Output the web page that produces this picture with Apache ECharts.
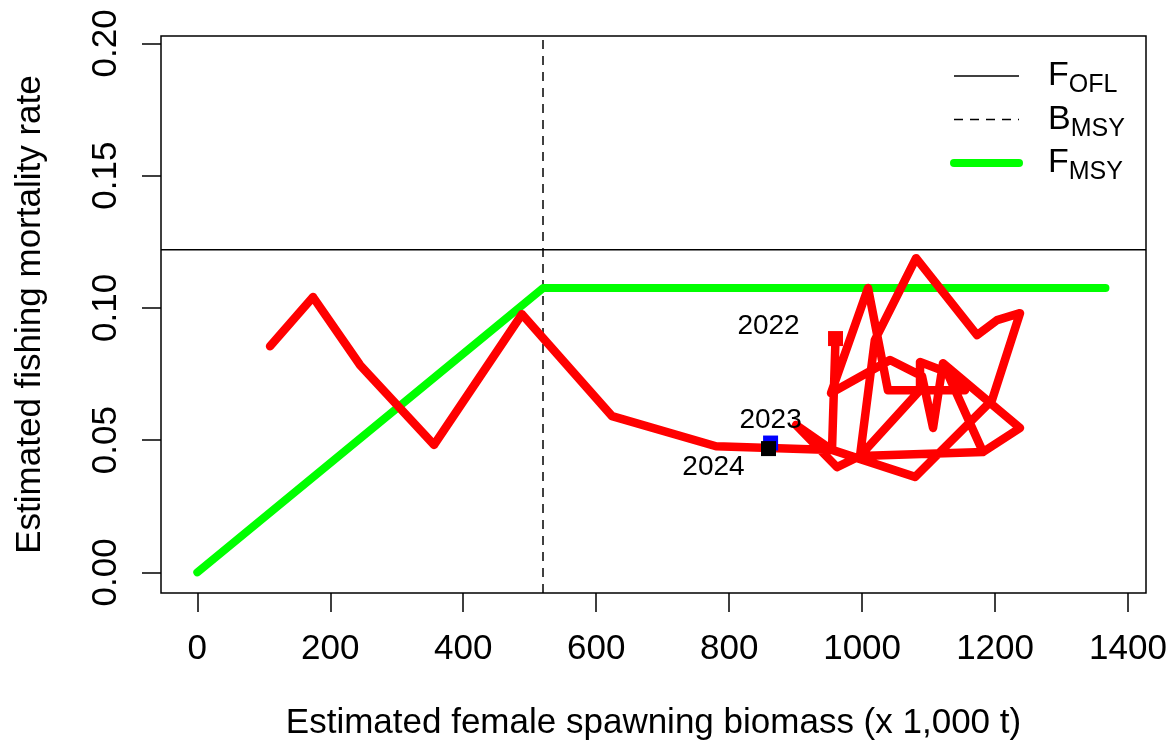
<!DOCTYPE html>
<html><head><meta charset="utf-8">
<script src="https://cdn.jsdelivr.net/npm/echarts@6/dist/echarts.min.js"></script>
<style>html,body{margin:0;padding:0;background:#fff}#c{width:1176px;height:751px}</style>
</head><body><div id="c"></div>
<script>
// ---- data ----
const xTicks = [0, 200, 400, 600, 800, 1000, 1200, 1400];
const yTicks = [0, 0.05, 0.10, 0.15, 0.20];
const trajBiomass = [109.4, 174.1, 244.8, 356.1, 488.4, 623.8, 780.2, 954.7, 900.6, 962.2, 996.8,
  1181.8, 1237.5, 1121.7, 1106.7, 1090.1, 1042.0, 953.2, 1008.9, 1038.8, 1154.8, 1127.7, 1181.8,
  1127.7, 1087.1, 1087.1, 996.8, 1019.1, 1081.1, 1172.9, 1203.0, 1237.5, 1195.3, 1079.6, 954.7, 960.0];
const trajF = [0.0855, 0.1041, 0.0784, 0.0482, 0.0976, 0.0591, 0.0477, 0.0463, 0.0557, 0.0398, 0.0440,
  0.0455, 0.0546, 0.0791, 0.0546, 0.0742, 0.0803, 0.0678, 0.1075, 0.0689, 0.0689, 0.0757, 0.0455,
  0.0757, 0.0795, 0.0689, 0.0440, 0.0878, 0.1188, 0.0897, 0.0954, 0.0980, 0.0651, 0.0361, 0.0463, 0.0884];
const fOFL = 0.122;
const bMSY = 520;
const fMSY = 0.1075;
const fmsyEnd = 1366;
const yearLabels = ['2022', '2023', '2024'];
const yearBiomass = [960.0, 862.3, 859.2];
const yearF = [0.0884, 0.0489, 0.0468];
const yearColors = ['#ff0000', '#0000ff', '#000000'];
const legendNames = ['F_OFL', 'B_MSY', 'F_MSY'];
const legendMain = ['F', 'B', 'F'];
const legendSub = ['OFL', 'MSY', 'MSY'];

const X_MIN = -54.6, X_MAX = 1427, Y_MIN = -0.0078, Y_MAX = 0.2028;
const FONT = "'Liberation Sans', Arial, sans-serif";

const chart = echarts.init(document.getElementById('c'), null, {renderer: 'canvas'});
const labelOffsets = [[-67, -12], [0, -23], [-55, 19]];

const yearSeries = yearLabels.map((y, i) => ({
  name: 'year' + y, type: 'scatter', symbol: 'rect', symbolSize: 15, silent: true, z: 3 + i,
  itemStyle: {color: yearColors[i], opacity: 1},
  label: {show: true, formatter: y, position: 'inside', offset: labelOffsets[i],
    fontSize: 28, fontFamily: FONT, color: '#000'},
  data: [[yearBiomass[i], yearF[i]]]
}));

const option = {
  animation: false,
  backgroundColor: '#fff',
  grid: {left: 161, right: 30, top: 36, bottom: 158, show: true, borderColor: '#000', borderWidth: 1.5, backgroundColor: 'transparent'},
  xAxis: {
    type: 'value', min: X_MIN, max: X_MAX,
    name: 'Estimated female spawning biomass (x 1,000 t)',
    nameLocation: 'middle', nameGap: 113,
    nameTextStyle: {fontSize: 35, fontFamily: FONT, color: '#000'},
    axisLine: {show: false, onZero: false},
    splitLine: {show: false},
    axisTick: {show: true, length: 19, inside: false, customValues: xTicks, lineStyle: {color: '#000', width: 1.5}},
    axisLabel: {customValues: xTicks, fontSize: 35, fontFamily: FONT, color: '#000', margin: 39,
      formatter: v => String(v)}
  },
  yAxis: {
    type: 'value', min: Y_MIN, max: Y_MAX,
    name: 'Estimated fishing mortality rate',
    nameLocation: 'middle', nameGap: 113, nameRotate: 90,
    nameTextStyle: {fontSize: 35, fontFamily: FONT, color: '#000'},
    axisLine: {show: false, onZero: false},
    splitLine: {show: false},
    axisTick: {show: true, length: 19, inside: false, customValues: yTicks, lineStyle: {color: '#000', width: 1.5}},
    axisLabel: {customValues: yTicks, rotate: 90, fontSize: 35, fontFamily: FONT, color: '#000', margin: 37,
      formatter: v => v.toFixed(2)}
  },
  legend: {
    data: [
      {name: 'F_OFL', lineStyle: {color: '#000', width: 1.5}},
      {name: 'B_MSY', lineStyle: {color: '#000', width: 1.5, type: [9, 7]}},
      {name: 'F_MSY', lineStyle: {color: '#00ff00', width: 8, cap: 'round'}}
    ],
    orient: 'vertical', left: 950, top: 59, padding: 0, itemGap: 4.5,
    itemWidth: 65, itemHeight: 14, selectedMode: false,
    itemStyle: {opacity: 0},
    formatter: n => { const i = legendNames.indexOf(n); return '{m|' + legendMain[i] + '}{s|' + legendSub[i] + '}'; },
    textStyle: {
      padding: [0, 0, 0, 24],
      rich: {
        m: {fontSize: 34, lineHeight: 34, verticalAlign: 'top', fontFamily: FONT, color: '#000'},
        s: {fontSize: 25, lineHeight: 24, padding: [14, 0, 0, 0], verticalAlign: 'top', fontFamily: FONT, color: '#000'}
      }
    }
  },
  series: [
    {
      name: 'F_OFL', type: 'line', symbol: 'none', silent: true,
      data: [[X_MIN, fOFL], [X_MAX, fOFL]],
      lineStyle: {color: '#000', width: 1.5}
    },
    {
      name: 'B_MSY', type: 'line', symbol: 'none', silent: true,
      data: [[bMSY, Y_MIN], [bMSY, Y_MAX]],
      lineStyle: {color: '#000', width: 1.5, type: [9, 7]}
    },
    {
      name: 'F_MSY', type: 'line', symbol: 'none', silent: true,
      data: [[0, 0], [bMSY, fMSY], [fmsyEnd, fMSY]],
      lineStyle: {color: '#00ff00', width: 8, cap: 'round', join: 'round'}
    },
    {
      name: 'trajectory', type: 'line', symbol: 'none', silent: true,
      data: trajBiomass.map((b, i) => [b, trajF[i]]),
      lineStyle: {color: '#ff0000', width: 8.5, cap: 'round', join: 'round'}
    }
  ].concat(yearSeries)
};
chart.setOption(option);
</script>
</body></html>
